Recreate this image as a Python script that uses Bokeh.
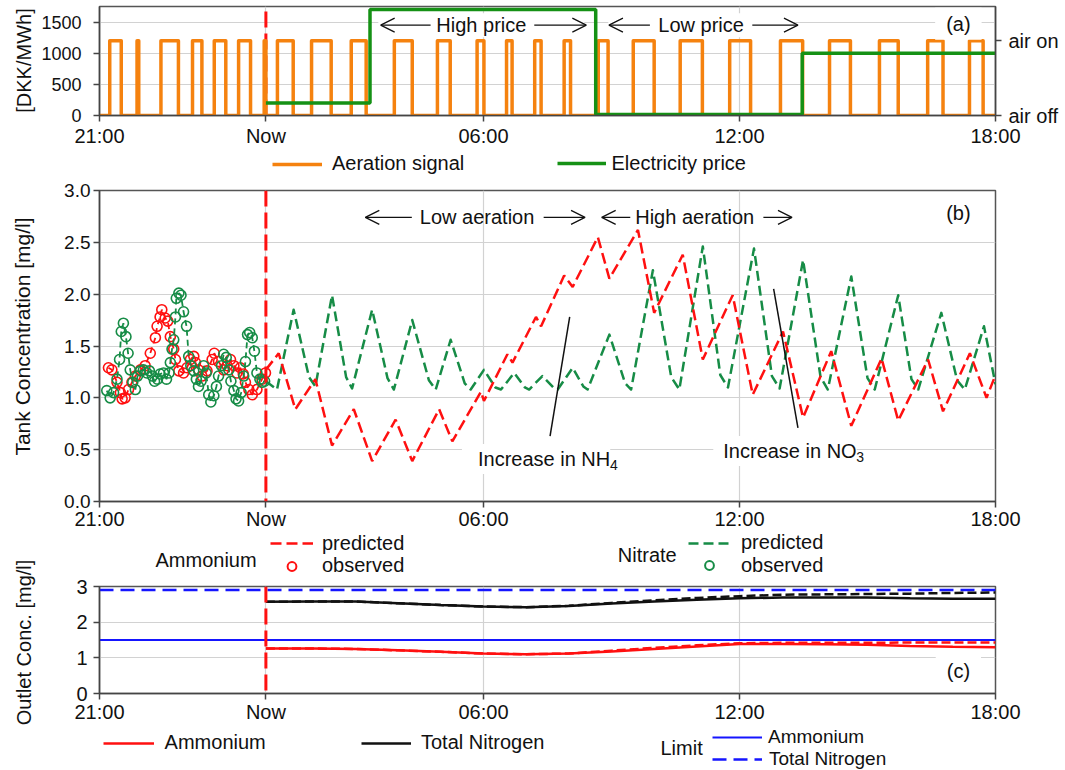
import math
from bokeh.plotting import figure
from bokeh.layouts import column, row
from bokeh.models import (Range1d, FixedTicker, LinearAxis, Span, Label, Arrow, OpenHead,
                          Legend, LegendItem, NumeralTickFormatter)
from bokeh.embed import file_html
from bokeh.resources import INLINE

# ----------------------------- data -----------------------------
# time axis: hours after 21:00
tick_hours = [0, 3.9, 9, 15, 21]
tick_labels = ["21:00", "Now", "06:00", "12:00", "18:00"]
now_hour = 3.9

# (a) aeration on-intervals and electricity price
aer_on_start = [0.24, 0.88, 1.44, 2.18, 2.69, 3.26, 3.86, 4.17, 4.97, 5.90, 6.91, 7.92, 8.85,
                9.54, 10.20, 10.89, 11.69, 12.51, 13.61, 14.77, 15.96, 17.11, 18.28, 19.41, 20.39]
aer_on_end = [0.51, 0.92, 1.85, 2.40, 2.96, 3.54, 3.90, 4.54, 5.43, 6.25, 7.33, 8.22, 9.01,
              9.67, 10.35, 11.04, 11.92, 13.00, 14.13, 15.26, 16.48, 17.60, 18.72, 19.77, 20.71]
aer_on_level = 1200
price_hours = [3.9, 6.34, 11.63, 16.47, 21.0]
price_dkk = [200, 1700, 15, 1000, 1000]
price_ticks = [0, 500, 1000, 1500]
price_top = 1750
air_ticks = [0, 1200]
air_labels = ["air off", "air on"]

# (b) tank concentrations [mg/l]
conc_ticks = [0, 0.5, 1.0, 1.5, 2.0, 2.5, 3.0]
nh4_obs_h = [0.21, 0.29, 0.41, 0.49, 0.53, 0.60, 0.68, 0.76, 0.84, 0.96, 1.07, 1.19, 1.31, 1.35,
             1.42, 1.46, 1.54, 1.60, 1.66, 1.74, 1.78, 1.86, 1.97, 2.05, 2.13, 2.21, 2.25, 2.32,
             2.40, 2.52, 2.64, 2.69, 2.79, 2.91, 2.99, 3.07, 3.15, 3.22, 3.30, 3.37, 3.42, 3.50,
             3.58, 3.69, 3.81, 3.89]
nh4_obs = [1.29, 1.27, 1.15, 1.05, 0.99, 1.00, 1.08, 1.15, 1.21, 1.27, 1.31, 1.43, 1.58, 1.69,
           1.78, 1.85, 1.77, 1.74, 1.59, 1.47, 1.37, 1.26, 1.24, 1.29, 1.37, 1.40, 1.34, 1.27,
           1.21, 1.26, 1.37, 1.43, 1.35, 1.27, 1.31, 1.37, 1.31, 1.24, 1.29, 1.23, 1.15, 1.08,
           1.03, 1.08, 1.18, 1.24]
no3_obs_h = [0.17, 0.25, 0.33, 0.41, 0.47, 0.51, 0.56, 0.62, 0.67, 0.72, 0.78, 0.84, 0.89, 0.96,
             1.03, 1.11, 1.17, 1.24, 1.29, 1.36, 1.42, 1.50, 1.57, 1.63, 1.66, 1.70, 1.74, 1.78,
             1.80, 1.86, 1.91, 1.97, 2.04, 2.09, 2.14, 2.21, 2.27, 2.32, 2.38, 2.44, 2.50, 2.56,
             2.61, 2.68, 2.74, 2.79, 2.86, 2.91, 2.97, 3.03, 3.08, 3.15, 3.20, 3.26, 3.32, 3.38,
             3.42, 3.47, 3.52, 3.58, 3.63, 3.69, 3.76, 3.81, 3.87]
no3_obs = [1.07, 1.00, 1.05, 1.18, 1.37, 1.64, 1.72, 1.59, 1.43, 1.27, 1.15, 1.08, 1.21, 1.26,
           1.27, 1.24, 1.26, 1.21, 1.16, 1.18, 1.23, 1.24, 1.18, 1.24, 1.34, 1.47, 1.56, 1.78,
           1.96, 2.01, 1.99, 1.83, 1.69, 1.40, 1.31, 1.26, 1.18, 1.11, 1.16, 1.31, 1.24, 1.03,
           0.96, 1.02, 1.11, 1.21, 1.31, 1.42, 1.39, 1.27, 1.16, 1.07, 0.99, 0.97, 1.05, 1.21,
           1.35, 1.61, 1.63, 1.58, 1.45, 1.24, 1.18, 1.15, 1.16]
nh4_pred_h = [3.9, 4.2, 4.59, 5.06, 5.45, 5.96, 6.39, 6.94, 7.33, 7.96, 8.27, 8.94, 9.01, 9.56,
              9.68, 10.23, 10.35, 10.89, 11.09, 11.68, 11.95, 12.62, 13.0, 13.67, 14.14, 14.84,
              15.31, 16.02, 16.49, 17.15, 17.62, 18.33, 18.72, 19.42, 19.77, 20.4, 20.79, 21.0]
nh4_pred = [1.27, 1.43, 0.89, 1.18, 0.54, 0.89, 0.39, 0.79, 0.39, 0.89, 0.58, 1.06, 0.97, 1.42,
            1.34, 1.78, 1.69, 2.18, 2.07, 2.55, 2.15, 2.62, 1.82, 2.38, 1.37, 1.99, 1.03, 1.64,
            0.81, 1.45, 0.73, 1.38, 0.78, 1.37, 0.87, 1.43, 1.00, 1.22]
no3_pred_h = [3.9, 4.16, 4.55, 4.91, 5.06, 5.45, 5.78, 5.92, 6.39, 6.75, 6.9, 7.33, 7.72, 7.88,
              8.23, 8.56, 8.7, 9.01, 9.28, 9.41, 9.72, 9.97, 10.07, 10.38, 10.64, 10.74, 11.09,
              11.34, 11.44, 11.95, 12.32, 12.46, 12.97, 13.4, 13.59, 14.14, 14.55, 14.73, 15.34,
              15.76, 15.94, 16.49, 16.9, 17.07, 17.62, 18.0, 18.17, 18.72, 19.03, 19.19, 19.73,
              20.1, 20.28, 20.73, 21.0]
no3_pred = [1.16, 1.08, 1.85, 1.20, 1.11, 1.99, 1.20, 1.09, 1.85, 1.19, 1.08, 1.75, 1.17, 1.08,
            1.56, 1.14, 1.08, 1.27, 1.10, 1.08, 1.24, 1.10, 1.08, 1.21, 1.10, 1.08, 1.29,
            1.11, 1.08, 1.61, 1.14, 1.08, 2.23, 1.20, 1.08, 2.46, 1.22, 1.10, 2.44,
            1.21, 1.09, 2.33, 1.20, 1.08, 2.17, 1.19, 1.08, 1.99, 1.18, 1.08, 1.82,
            1.17, 1.08, 1.69, 1.13]

# (c) outlet concentrations [mg/l]
outlet_ticks = [0, 1, 2, 3]
out_h = [3.9, 5, 6, 7, 8, 9, 10, 11, 12, 13, 14, 15, 16, 17, 18, 19, 20, 21]
nh4_out = [1.26, 1.26, 1.25, 1.21, 1.17, 1.12, 1.10, 1.12, 1.18, 1.25, 1.32, 1.39, 1.39, 1.38,
           1.37, 1.33, 1.31, 1.30]
nh4_out_alt = [1.26, 1.26, 1.25, 1.21, 1.17, 1.12, 1.10, 1.12, 1.20, 1.28, 1.35, 1.41, 1.42,
               1.42, 1.42, 1.43, 1.43, 1.43]
tn_out = [2.57, 2.58, 2.58, 2.53, 2.48, 2.44, 2.42, 2.45, 2.52, 2.58, 2.63, 2.67, 2.69, 2.69,
          2.69, 2.67, 2.66, 2.66]
tn_out_alt = [2.57, 2.58, 2.58, 2.53, 2.48, 2.44, 2.42, 2.46, 2.54, 2.61, 2.68, 2.73, 2.77,
              2.78, 2.79, 2.80, 2.82, 2.83]
limit_nh4 = 1.5
limit_tn = 2.9

# ----------------------------- style -----------------------------
FONT = "Liberation Sans"
TXT = "#111111"
RED = "#ff1010"
GREEN_N = "#168c46"
ORANGE = "#f5820f"
GREEN_P = "#159115"
BLUE = "#1515ff"
PAGE_W, PAGE_H = 1065, 770
LW = 36                  # width of the column holding the rotated axis titles
MW = PAGE_W - LW         # width of the main column
ML, MR = 63, 70          # frame borders of the main panels
FX0, FX1 = LW + ML, PAGE_W - MR   # page x of the frames' left / right edges
NAN = float("nan")


def style_axis(ax):
    ax.axis_line_color = "#444444"
    ax.axis_line_width = 1.5
    ax.major_tick_line_color = "#444444"
    ax.major_tick_line_width = 1.5
    ax.major_tick_out = 6
    ax.major_tick_in = 0
    ax.minor_tick_line_color = None
    ax.major_label_text_font = FONT
    ax.major_label_text_color = TXT


def make_fig(height, b_top, b_bottom, y_end, y_ticks, x_standoff):
    p = figure(width=MW, height=height,
               x_range=Range1d(tick_hours[0], tick_hours[-1]), y_range=Range1d(0, y_end),
               output_backend="svg", toolbar_location=None,
               min_border_left=ML, min_border_right=MR,
               min_border_top=b_top, min_border_bottom=b_bottom)
    p.background_fill_color = "white"
    p.border_fill_color = "white"
    p.outline_line_color = "#555555"
    p.outline_line_width = 1.5
    p.outline_line_alpha = 1.0
    p.xaxis.ticker = FixedTicker(ticks=tick_hours)
    p.xaxis.major_label_overrides = {h: s for h, s in zip(tick_hours, tick_labels)}
    p.yaxis.ticker = FixedTicker(ticks=y_ticks)
    p.grid.grid_line_color = "#d2d2d2"
    p.grid.grid_line_width = 1.2
    for ax in p.axis:
        style_axis(ax)
    p.xaxis.major_label_text_font_size = "20px"
    p.xaxis.major_label_standoff = x_standoff
    return p


def blank_fig(width, height, x0, x1, y_bottom, y_top, bl=0, br=0):
    # a plain canvas whose data units are page pixels (used for titles / legend keys)
    f = figure(width=width, height=height, x_range=Range1d(x0, x1),
               y_range=Range1d(y_bottom, y_top), x_axis_type=None, y_axis_type=None,
               output_backend="svg", toolbar_location=None,
               min_border_left=bl, min_border_right=br, min_border_top=0, min_border_bottom=0)
    f.outline_line_color = None
    f.background_fill_color = "white"
    f.border_fill_color = "white"
    return f


def strip(top, bottom):
    return blank_fig(MW, bottom - top, FX0, FX1, bottom, top, ML, MR)


def text(p, x, y, s, size="20px", align="center", **kw):
    lab = Label(x=x, y=y, text=s, text_font=FONT, text_font_size=size, text_color=TXT,
                text_align=align, text_baseline="middle", **kw)
    p.add_layout(lab)
    return lab


def arrow(p, x0, x1, y):
    p.add_layout(Arrow(x_start=x0, y_start=y, x_end=x1, y_end=y, line_color=TXT,
                       line_width=1.3,
                       end=OpenHead(size=14, line_color=TXT, line_width=1.3)))


def key(strp, strip_bottom, renderer, s, page_x, page_y, gw, standoff, gh=22, size="20px"):
    lg = Legend(items=[LegendItem(label=s, renderers=[renderer])],
                location=(page_x - FX0, strip_bottom - (page_y + gh / 2)),
                padding=0, margin=0, spacing=0,
                glyph_width=int(round(gw)), glyph_height=gh, label_height=gh, label_width=10,
                label_standoff=int(round(standoff)), label_text_font=FONT,
                label_text_font_size=size, label_text_color=TXT,
                border_line_color=None, background_fill_alpha=0)
    strp.add_layout(lg)


# ----------------------------- panel (a) -----------------------------
pA = make_fig(150, 6, 35, price_top, price_ticks, 3)
pA.yaxis.major_label_text_font_size = "18px"
pA.yaxis.major_label_standoff = 12
# "Now" marker, drawn beneath the aeration signal
pA.line([now_hour, now_hour], [0, price_top], line_color=RED, line_width=3, line_dash="16 6")

aer_x, aer_y = [tick_hours[0]], [0]
for s, e in zip(aer_on_start, aer_on_end):
    aer_x += [s, s, e, e]
    aer_y += [0, aer_on_level, aer_on_level, 0]
aer_x.append(tick_hours[-1])
aer_y.append(0)
pA.line(aer_x, aer_y, line_color=ORANGE, line_width=3.5, line_join="round")
pA.step(price_hours, price_dkk, mode="after", line_color=GREEN_P, line_width=3.5)

air_axis = LinearAxis(ticker=FixedTicker(ticks=air_ticks),
                      major_label_overrides=dict(zip(air_ticks, air_labels)))
style_axis(air_axis)
air_axis.major_label_text_font_size = "20px"
air_axis.major_label_standoff = 7
pA.add_layout(air_axis, "right")

# padding order: (left, right, top, bottom)
text(pA, 8.95, 1450, "High price", background_fill_color="white", padding=(58, 58, 1, 1))
arrow(pA, 7.76, 6.59, 1450)
arrow(pA, 10.19, 11.41, 1450)
text(pA, 14.1, 1450, "Low price", background_fill_color="white", padding=(50, 50, 1, 1))
arrow(pA, 12.9, 11.94, 1450)
arrow(pA, 15.3, 16.37, 1450)
text(pA, 20.13, 1475, "(a)", background_fill_color="white", padding=(11, 11, 5, 5))

# ----------------------------- panel (b) -----------------------------
pB = make_fig(354, 12, 29, 3.0, conc_ticks, 0)
pB.yaxis.formatter = NumeralTickFormatter(format="0.0")
pB.yaxis.major_label_text_font_size = "19px"
pB.yaxis.major_label_standoff = 3

pB.line(nh4_obs_h, nh4_obs, line_color=RED, line_width=1.8, line_dash="6 4")
pB.scatter(nh4_obs_h, nh4_obs, marker="circle", size=10, fill_color=None,
           line_color=RED, line_width=1.6)
pB.line(no3_obs_h, no3_obs, line_color=GREEN_N, line_width=1.8, line_dash="6 4")
pB.scatter(no3_obs_h, no3_obs, marker="circle", size=10, fill_color=None,
           line_color=GREEN_N, line_width=1.6)
pB.line(no3_pred_h, no3_pred, line_color=GREEN_N, line_width=2.5, line_dash="10 5",
        line_join="round")
pB.line(nh4_pred_h, nh4_pred, line_color=RED, line_width=2.5, line_dash="11 5")
pB.add_layout(Span(location=now_hour, dimension="height", line_color=RED, line_width=3,
                   line_dash="16 6"))

text(pB, 8.85, 2.74, "Low aeration")
arrow(pB, 7.32, 6.23, 2.74)
arrow(pB, 10.41, 11.38, 2.74)
text(pB, 13.95, 2.74, "High aeration")
arrow(pB, 12.44, 11.77, 2.74)
arrow(pB, 15.56, 16.23, 2.74)
text(pB, 20.13, 2.78, "(b)", background_fill_color="white", padding=(11, 11, 4, 4))

pB.add_layout(Arrow(x_start=11.02, y_start=1.78, x_end=10.56, y_end=0.63, line_color=TXT,
                    line_width=1.5, end=None))
pB.add_layout(Arrow(x_start=15.80, y_start=2.05, x_end=16.37, y_end=0.71, line_color=TXT,
                    line_width=1.5, end=None))
text(pB, 8.87, 0.41, "Increase in NH", align="left", x_offset=-16,
     background_fill_color="white", padding=(16, 0, 4, 4))
text(pB, 8.87, 0.41, "4", size="14px", align="left", x_offset=132, y_offset=-6,
     background_fill_color="white", padding=(0, 16, 2, 2))
text(pB, 14.62, 0.486, "Increase in NO", align="left", x_offset=-10,
     background_fill_color="white", padding=(10, 0, 4, 4))
text(pB, 14.62, 0.486, "3", size="14px", align="left", x_offset=133, y_offset=-6,
     background_fill_color="white", padding=(0, 17, 2, 2))

# ----------------------------- panel (c) -----------------------------
pC = make_fig(148, 9, 30, 3.0, outlet_ticks, 1)
pC.yaxis.major_label_text_font_size = "20px"
pC.yaxis.major_label_standoff = 6

edge = [tick_hours[0], tick_hours[-1]]
pC.line(edge, [limit_nh4, limit_nh4], line_color=BLUE, line_width=2)
pC.line(edge, [limit_tn, limit_tn], line_color=BLUE, line_width=2.5, line_dash="14 7")
pC.line(out_h, tn_out, line_color=TXT, line_width=2.5)
pC.line(out_h, tn_out_alt, line_color=TXT, line_width=2.5, line_dash="9 4")
pC.line(out_h, nh4_out, line_color=RED, line_width=2.5)
pC.line(out_h, nh4_out_alt, line_color=RED, line_width=2.5, line_dash="9 4")
pC.add_layout(Span(location=now_hour, dimension="height", line_color=RED, line_width=3,
                   line_dash="16 6"))
text(pC, 20.13, 0.64, "(c)", background_fill_color="white", padding=(11, 11, 6, 6))

# ----------------------------- legend strips -----------------------------
# (legend keys: renderers holding no drawable point, only their style)
sA = strip(150, 178)
kA1 = sA.line([NAN, NAN], [NAN, NAN], line_color=ORANGE, line_width=3.5)
kA2 = sA.line([NAN, NAN], [NAN, NAN], line_color=GREEN_P, line_width=3.5)
key(sA, 178, kA1, "Aeration signal", 272, 164, 50, 10)
key(sA, 178, kA2, "Electricity price", 556.5, 163.5, 49, 6)

sB = strip(532, 577)
kB1 = sB.line([NAN, NAN], [NAN, NAN], line_color=RED, line_width=2.5, line_dash="11 5")
kB2 = sB.scatter([NAN], [NAN], marker="circle", fill_color=None, line_color=RED, line_width=2)
kB3 = sB.line([NAN, NAN], [NAN, NAN], line_color=GREEN_N, line_width=2.5, line_dash="10 5")
kB4 = sB.scatter([NAN], [NAN], marker="circle", fill_color=None, line_color=GREEN_N,
                 line_width=2)
text(sB, 155, 559.3, "Ammonium", align="left")
key(sB, 577, kB1, "predicted", 270, 543.5, 43, 9)
key(sB, 577, kB2, "observed", 270, 566, 43, 9)
text(sB, 617.3, 554.3, "Nitrate", align="left")
key(sB, 577, kB3, "predicted", 688, 543, 42, 11)
key(sB, 577, kB4, "observed", 688, 565.5, 42, 11)

sC = strip(725, 770)
kC1 = sC.line([NAN, NAN], [NAN, NAN], line_color=RED, line_width=2.5)
kC2 = sC.line([NAN, NAN], [NAN, NAN], line_color=TXT, line_width=2.5)
kC3 = sC.line([NAN, NAN], [NAN, NAN], line_color=BLUE, line_width=2)
kC4 = sC.line([NAN, NAN], [NAN, NAN], line_color=BLUE, line_width=2.5, line_dash="14 7")
key(sC, 770, kC1, "Ammonium", 102.6, 743, 51, 11)
key(sC, 770, kC2, "Total Nitrogen", 361, 743, 50, 10)
text(sC, 660, 747.5, "Limit", align="left")
key(sC, 770, kC3, "Ammonium", 712, 736.5, 50, 6, size="19px")
key(sC, 770, kC4, "Total Nitrogen", 712, 758.5, 50, 7, size="19px")

# ----------------------------- rotated axis titles -----------------------------
tF = blank_fig(LW, PAGE_H, 0, LW, PAGE_H, 0)
text(tF, 23, 60, "[DKK/MWh]", angle=math.pi / 2)
text(tF, 22, 336, "Tank Concentration [mg/l]", size="21px", angle=math.pi / 2)
text(tF, 23, 642, "Outlet Conc. [mg/l]", angle=math.pi / 2)

layout = row(tF, column(pA, sA, pB, sB, pC, sC, spacing=0), spacing=0)
open("out.html", "w").write(file_html(layout, INLINE))
